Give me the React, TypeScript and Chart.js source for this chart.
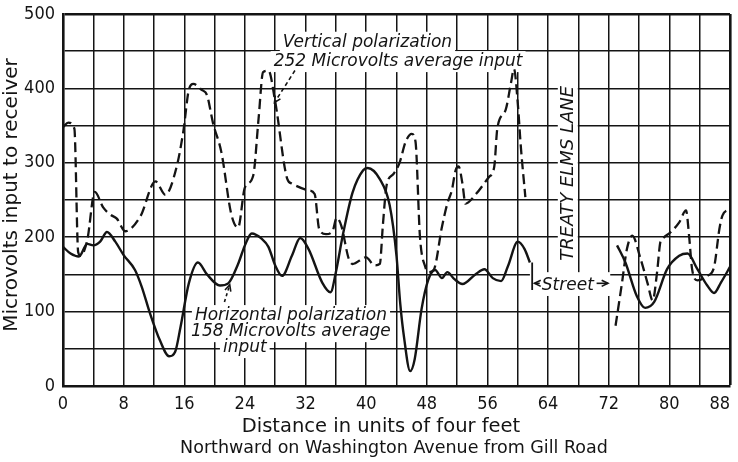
import React, { useEffect, useRef } from 'react';
import { Chart, registerables } from 'chart.js';

Chart.register(...registerables);

// ---- data ----
// Vertical polarization (dashed), first stretch
const vertX1 = [0, 0.7, 1.5, 2.0, 2.3, 3.2, 4.2, 5.3, 6.3, 7.1, 8.2, 10.2, 12.2, 13.5, 15.0, 15.9, 16.6, 17.2, 18.3, 19.0, 19.8, 20.9, 22.2, 23.1, 24.0, 25.1, 25.8, 26.4, 27.1, 28.0, 29.6, 30.2, 32.4, 33.2, 33.8, 34.7, 35.6, 36.1, 36.7, 37.7, 38.2, 40.0, 41.1, 41.8, 42.2, 42.7, 43.6, 44.4, 45.2, 46.0, 46.5, 47.1, 47.8, 48.2, 48.9, 50.0, 50.7, 51.3, 51.8, 52.2, 52.7, 53.1, 54.4, 56.2, 56.9, 57.3, 58.4, 59.1, 59.5, 60.0, 60.4, 61.0];
const vertY1 = [348, 354, 346, 180, 175, 196, 261, 240, 230, 225, 208, 228, 275, 257, 295, 344, 398, 406, 398, 391, 353, 314, 231, 213, 267, 283, 359, 422, 424, 382, 278, 272, 263, 258, 211, 204, 209, 226, 216, 171, 164, 173, 162, 164, 216, 270, 285, 300, 328, 339, 329, 200, 160, 153, 156, 214, 245, 263, 290, 295, 272, 245, 257, 281, 295, 346, 371, 407, 426, 380, 322, 254];
// Vertical polarization (dashed), after the street
const vertX2 = [72.9, 73.7, 74.4, 75.1, 76.2, 77.1, 77.8, 78.4, 78.8, 79.1, 80.2, 81.3, 82.2, 82.6, 83.0, 83.7, 85.0, 85.9, 86.6, 87.0, 88.0];
const vertY2 = [81, 135, 184, 202, 171, 139, 115, 155, 193, 198, 207, 220, 236, 202, 157, 142, 148, 160, 211, 229, 238];
// Horizontal polarization (solid), first stretch
const horizX1 = [0, 1.0, 2.1, 3.2, 4.0, 4.9, 5.8, 6.9, 8.0, 9.5, 10.4, 11.5, 12.8, 14.0, 14.8, 15.5, 16.6, 17.8, 19.0, 20.7, 21.8, 23.1, 24.0, 24.9, 26.2, 27.1, 28.0, 28.9, 30.2, 31.3, 32.4, 34.2, 35.3, 36.0, 36.9, 38.2, 39.6, 40.2, 41.8, 43.1, 44.0, 44.5, 45.0, 45.8, 46.4, 47.3, 48.2, 49.1, 50.0, 50.7, 51.6, 52.7, 54.4, 55.6, 56.7, 57.8, 58.7, 60.0, 60.9, 61.6];
const horizY1 = [187, 178, 174, 191, 189, 194, 207, 194, 176, 156, 133, 97, 61, 40, 46, 79, 138, 166, 150, 135, 138, 164, 189, 205, 198, 187, 162, 148, 175, 199, 184, 139, 126, 153, 202, 260, 290, 293, 278, 243, 175, 110, 65, 20, 36, 103, 143, 156, 145, 153, 144, 137, 150, 157, 145, 141, 161, 194, 184, 166];
// Horizontal polarization (solid), after the street
const horizX2 = [73.1, 74.2, 75.7, 76.8, 78.0, 79.7, 81.3, 82.4, 83.7, 85.0, 85.9, 86.8, 88.0];
const horizY2 = [189, 166, 121, 105, 113, 157, 175, 178, 157, 135, 125, 139, 160];

const xMin = 0;
const xMax = 88;
const xStep = 4;
const xLabelEvery = 8;
const yMin = 0;
const yMax = 500;
const yStep = 50;
const yLabelEvery = 100;

const xTitle1 = 'Distance in units of four feet';
const xTitle2 = 'Northward on Washington Avenue from Gill Road';
const yTitle = 'Microvolts input to receiver';

// annotation texts, anchored in data units
const noteLines = [
  { text: 'Vertical polarization', x: 29.0, y: 456 },
  { text: '252 Microvolts average input', x: 27.8, y: 430 },
  { text: 'Horizontal polarization', x: 17.4, y: 88.6 },
  { text: '158 Microvolts average', x: 16.9, y: 67 },
  { text: 'input', x: 21.1, y: 45.6 },
];
const streetLabel = 'Street';
const laneLabel = 'TREATY ELMS LANE';

const INK = '#141414';
const SANS = '"DejaVu Sans", "Liberation Sans", sans-serif';
const TICK_FONT = '"DejaVu Sans Condensed", "DejaVu Sans", sans-serif';

const pts = (xs: number[], ys: number[]) => xs.map((x, i) => ({ x, y: ys[i] }));

function arrow(ctx: CanvasRenderingContext2D, x1: number, y1: number, x2: number, y2: number, dash: number[]) {
  ctx.save();
  ctx.strokeStyle = INK;
  ctx.lineWidth = 1.6;
  ctx.setLineDash(dash);
  ctx.beginPath();
  ctx.moveTo(x1, y1);
  ctx.lineTo(x2, y2);
  ctx.stroke();
  ctx.setLineDash([]);
  const a = Math.atan2(y2 - y1, x2 - x1);
  const L = 7;
  ctx.beginPath();
  ctx.moveTo(x2 - L * Math.cos(a - 0.45), y2 - L * Math.sin(a - 0.45));
  ctx.lineTo(x2, y2);
  ctx.lineTo(x2 - L * Math.cos(a + 0.45), y2 - L * Math.sin(a + 0.45));
  ctx.stroke();
  ctx.restore();
}

const notesPlugin = {
  id: 'notes',
  beforeDatasetsDraw(chart: any) {
    const { ctx, scales } = chart;
    const X = (v: number) => scales.x.getPixelForValue(v);
    const Y = (v: number) => scales.y.getPixelForValue(v);
    ctx.save();
    ctx.font = 'italic 17px ' + SANS;
    ctx.textBaseline = 'alphabetic';
    ctx.textAlign = 'left';
    for (const n of noteLines) {
      const w = ctx.measureText(n.text).width;
      ctx.fillStyle = '#fff';
      ctx.fillRect(X(n.x) - 3, Y(n.y) - 15, w + 6, 21);
    }
    ctx.fillStyle = INK;
    for (const n of noteLines) ctx.fillText(n.text, X(n.x), Y(n.y));

    // arrows of the two notes
    arrow(ctx, X(30.6), Y(424), X(27.9), Y(381), [4, 3]);
    arrow(ctx, X(21.3), Y(113), X(22.0), Y(136), [3, 3]);

    // TREATY ELMS LANE (vertical)
    ctx.save();
    ctx.translate(X(66.6), Y(286));
    ctx.rotate(-Math.PI / 2);
    ctx.font = 'italic 18px ' + SANS;
    ctx.textAlign = 'center';
    ctx.textBaseline = 'middle';
    const lw = ctx.measureText(laneLabel).width;
    ctx.fillStyle = '#fff';
    ctx.fillRect(-lw / 2 - 2, -10, lw + 4, 20);
    ctx.fillStyle = INK;
    ctx.fillText(laneLabel, 0, 1);
    ctx.restore();

    // |<-Street->
    const sy = Y(138);
    ctx.fillStyle = '#fff';
    ctx.fillRect(X(61.6), Y(153), X(72.2) - X(61.6), Y(121) - Y(153));
    ctx.strokeStyle = INK;
    ctx.lineWidth = 1.8;
    ctx.beginPath();
    ctx.moveTo(X(61.9), Y(166));
    ctx.lineTo(X(61.9), Y(129));
    ctx.stroke();
    ctx.font = 'italic 17px ' + SANS;
    ctx.textAlign = 'center';
    ctx.textBaseline = 'alphabetic';
    ctx.fillStyle = INK;
    ctx.fillText(streetLabel, X(66.6), Y(129));
    arrow(ctx, X(62.9), sy, X(62.2), sy, []);
    arrow(ctx, X(70.4), sy, X(71.9), sy, []);
    ctx.restore();
  },
  afterDraw(chart: any) {
    const { ctx } = chart;
    ctx.save();
    ctx.fillStyle = INK;
    ctx.textAlign = 'center';
    ctx.textBaseline = 'alphabetic';
    ctx.font = '19.5px ' + SANS;
    ctx.fillText(xTitle1, 381, 432);
    ctx.font = '17.5px ' + SANS;
    ctx.fillText(xTitle2, 394, 453);
    ctx.save();
    ctx.translate(17, 195);
    ctx.rotate(-Math.PI / 2);
    ctx.font = '20px ' + SANS;
    ctx.fillText(yTitle, 0, 0);
    ctx.restore();
    ctx.restore();
  },
};

export default function App() {
  const ref = useRef<HTMLCanvasElement | null>(null);

  useEffect(() => {
    if (!ref.current) return;
    const dashed = {
      borderColor: INK,
      borderWidth: 2.3,
      borderDash: [10, 5],
      pointRadius: 0,
      cubicInterpolationMode: 'monotone',
      fill: false,
    };
    const solid = {
      borderColor: INK,
      borderWidth: 2.4,
      pointRadius: 0,
      cubicInterpolationMode: 'monotone',
      fill: false,
    };
    const chart = new Chart(ref.current, {
      type: 'line',
      data: {
        datasets: [
          { label: 'Vertical polarization', data: pts(vertX1, vertY1), ...dashed },
          { label: 'Vertical polarization (2)', data: pts(vertX2, vertY2), ...dashed },
          { label: 'Horizontal polarization', data: pts(horizX1, horizY1), ...solid },
          { label: 'Horizontal polarization (2)', data: pts(horizX2, horizY2), ...solid },
        ],
      },
      options: {
        animation: false,
        responsive: false,
        devicePixelRatio: 1,
        layout: { padding: { top: 14, right: 8, left: 0, bottom: 0 } },
        plugins: { legend: { display: false }, tooltip: { enabled: false } },
        scales: {
          x: {
            type: 'linear',
            min: xMin,
            max: xMax,
            afterFit: (s: any) => {
              s.height = 76;
              s.paddingLeft = 0;
              s.paddingRight = 0;
            },
            ticks: {
              stepSize: xStep,
              autoSkip: false,
              maxRotation: 0,
              padding: 8,
              color: INK,
              font: { family: TICK_FONT, size: 18 },
              callback: (v: any) => {
                if (v % xLabelEvery !== 0) return '';
                return v === xMax ? String(v) + '\u2007\u2007' : String(v);
              },
            },
            grid: {
              color: INK,
              drawTicks: false,
              lineWidth: (c: any) => (c.tick && c.tick.value === xMax ? 2.6 : 1.5),
            },
            border: { display: true, color: INK, width: 2.6 },
          },
          y: {
            min: yMin,
            max: yMax,
            afterFit: (s: any) => {
              s.width = 63;
              s.paddingTop = 0;
              s.paddingBottom = 0;
            },
            ticks: {
              stepSize: yStep,
              autoSkip: false,
              padding: 8,
              color: INK,
              font: { family: TICK_FONT, size: 18 },
              callback: (v: any) => (v % yLabelEvery === 0 ? String(v) : ''),
            },
            grid: {
              color: INK,
              drawTicks: false,
              lineWidth: (c: any) => (c.tick && c.tick.value === yMax ? 2.6 : 1.5),
            },
            border: { display: true, color: INK, width: 2.6 },
          },
        },
      },
      plugins: [notesPlugin],
    } as any);
    return () => chart.destroy();
  }, []);

  return (
    <div style={{ position: 'fixed', left: 0, top: 0, width: 738, height: 462, background: '#fff' }}>
      <canvas ref={ref} width={738} height={462} style={{ width: 738, height: 462, display: 'block' }} />
    </div>
  );
}
